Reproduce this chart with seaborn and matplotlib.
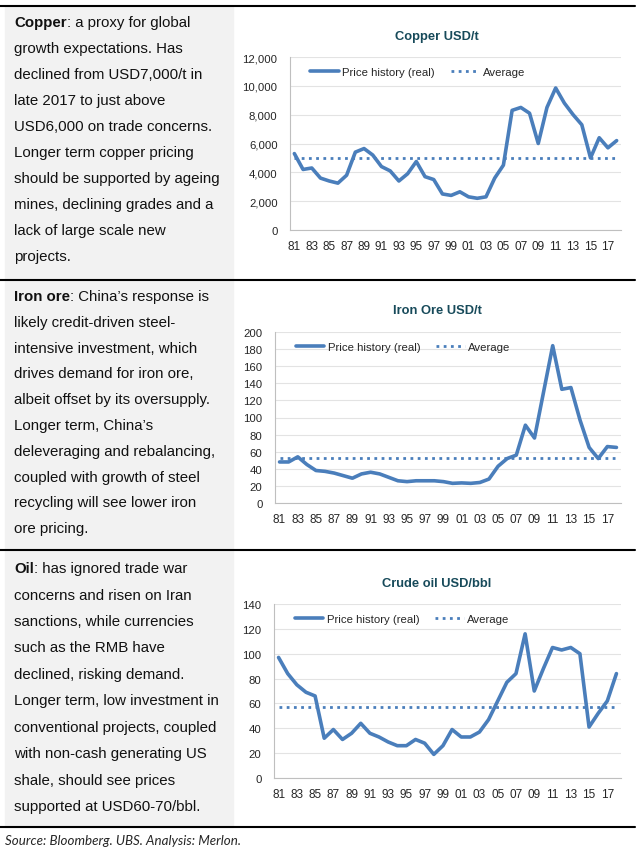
import matplotlib
matplotlib.use("Agg")
import matplotlib.pyplot as plt
import seaborn as sns
import pandas as pd
from matplotlib.ticker import FuncFormatter, MultipleLocator, FixedLocator

# --- data ---
years = list(range(1981, 2019))
tick_labels = [f"{y % 100:02d}" for y in years[::2]]

copper = [5300, 4200, 4300, 3600, 3400, 3250, 3800, 5400, 5650, 5200,
          4400, 4100, 3400, 3900, 4750, 3700, 3500, 2500, 2400, 2650,
          2300, 2200, 2300, 3600, 4500, 8300, 8500, 8100, 6000, 8500,
          9850, 8800, 8000, 7300, 5000, 6400, 5700, 6200]
copper_avg = 5000

iron = [48, 48, 54, 45, 38, 37, 35, 32, 29, 34,
        36, 34, 30, 26, 25, 26, 26, 26, 25, 23,
        23.5, 23, 24, 28, 43, 52, 56, 91, 76, 130,
        184, 133, 135, 97, 65, 52, 66, 65]
iron_avg = 53

oil = [97, 84, 75, 69, 66, 32, 39, 31, 36, 44,
       36, 33, 29, 26, 26, 31, 28, 19, 26, 39,
       33, 33, 37, 47, 62, 77, 84, 116, 70, 88,
       105, 103, 105, 100, 41, 52, 62, 84]
oil_avg = 57

titles = ["Copper USD/t", "Iron Ore USD/t", "Crude oil USD/bbl"]
y_max = [12000, 200, 140]
y_step = [2000, 20, 20]

texts = [
    ("Copper", [": a proxy for global", "growth expectations. Has",
                "declined from USD7,000/t in", "late 2017 to just above",
                "USD6,000 on trade concerns.", "Longer term copper pricing",
                "should be supported by ageing", "mines, declining grades and a",
                "lack of large scale new", "projects."]),
    ("Iron ore", [": China\u2019s response is", "likely credit-driven steel-",
                  "intensive investment, which", "drives demand for iron ore,",
                  "albeit offset by its oversupply.", "Longer term, China\u2019s",
                  "deleveraging and rebalancing,", "coupled with growth of steel",
                  "recycling will see lower iron", "ore pricing."]),
    ("Oil", [": has ignored trade war", "concerns and risen on Iran",
             "sanctions, while currencies", "such as the RMB have",
             "declined, risking demand.", "Longer term, low investment in",
             "conventional projects, coupled", "with non-cash generating US",
             "shale, should see prices", "supported at USD60-70/bbl."]),
]

sns.set_style("white")
plt.rcParams["font.family"] = ["Liberation Sans", "DejaVu Sans"]

W, H = 641, 853
fig = plt.figure(figsize=(W / 100, H / 100), dpi=100)


def fx(px):
    return px / W


def fy(py):
    return 1 - py / H


# table background and rules
fig.patches.append(plt.Rectangle((fx(5), fy(828)), fx(228), (828 - 7) / H,
                                 transform=fig.transFigure, color="#F2F2F2", zorder=0))
for yy in [7, 281, 551, 828]:
    fig.add_artist(plt.Line2D([0, fx(635)], [fy(yy), fy(yy)], color="black",
                              lw=1.5, transform=fig.transFigure))

# left-hand text
renderer = fig.canvas.get_renderer()
starts = [22, 296, 568]
gaps = [26, 25.8, 26.5]
for (head, lines), y0, g in zip(texts, starts, gaps):
    for i, line in enumerate(lines):
        yb = fy(y0 + 5 + g * i)
        if i == 0:
            t = fig.text(fx(14), yb, head, fontsize=10.8, fontweight="bold",
                         va="baseline", color="#111111")
            bb = t.get_window_extent(renderer)
            fig.text(bb.x1 / W, yb, line, fontsize=10.8, va="baseline", color="#111111")
        else:
            fig.text(fx(14), yb, line, fontsize=10.8, va="baseline", color="#111111")

fig.text(fx(5), fy(841), "Source: Bloomberg. UBS. Analysis: Merlon.", fontsize=9.6,
         style="italic", va="center", family=["Lato", "Liberation Sans"])

# charts
boxes = [(290, 58, 231), (275, 333, 504), (274, 605, 779)]
title_y = [37, 311, 584]
series = [(copper, copper_avg), (iron, iron_avg), (oil, oil_avg)]
blue = "#4A7EBB"

for k, ((left, top, bottom), (vals, avg)) in enumerate(zip(boxes, series)):
    ax = fig.add_axes([fx(left), fy(bottom), fx(621 - left), (bottom - top) / H])
    df = pd.DataFrame({"pos": range(len(years)), "price": vals})
    df["avg"] = avg
    sns.lineplot(data=df, x="pos", y="price", ax=ax, color=blue, lw=2.6,
                 label="Price history (real)")
    sns.lineplot(data=df, x="pos", y="avg", ax=ax, color=blue, lw=2.0,
                 linestyle=(0, (1, 1.6)), label="Average")
    ax.set_xlim(-0.5, len(years) - 0.5)
    ax.set_ylim(0, y_max[k])
    ax.yaxis.set_major_locator(MultipleLocator(y_step[k]))
    ax.yaxis.set_major_formatter(FuncFormatter(lambda v, p: f"{int(v):,}"))
    ax.xaxis.set_major_locator(FixedLocator(list(range(0, len(years), 2))))
    ax.set_xticklabels(tick_labels)
    ax.xaxis.set_minor_locator(FixedLocator([i - 0.5 for i in range(len(years) + 1)]))
    ax.tick_params(axis="x", which="major", length=0, labelsize=8.5, pad=7)
    ax.tick_params(axis="x", which="minor", length=4, color="#BFBFBF", direction="out")
    ax.tick_params(axis="y", length=0, labelsize=8.2, pad=9)
    ax.set_xlabel("")
    ax.set_ylabel("")
    ax.grid(axis="y", color="#E3E3E3", lw=0.8)
    ax.set_axisbelow(True)
    for s in ["top", "right"]:
        ax.spines[s].set_visible(False)
    for s in ["left", "bottom"]:
        ax.spines[s].set_color("#BFBFBF")
        ax.spines[s].set_linewidth(0.8)
    ax.set_facecolor("none")
    ax.legend(loc="upper left", bbox_to_anchor=(0.03, 1.0), ncol=2, frameon=False,
              fontsize=8.2, handlelength=2.5, handletextpad=0.3, columnspacing=1.4)
    fig.text(fx(437), fy(title_y[k]), titles[k], ha="center", va="center",
             fontsize=9.3, fontweight="bold", color="#174A5A")

fig.savefig("out.png", dpi=100)
